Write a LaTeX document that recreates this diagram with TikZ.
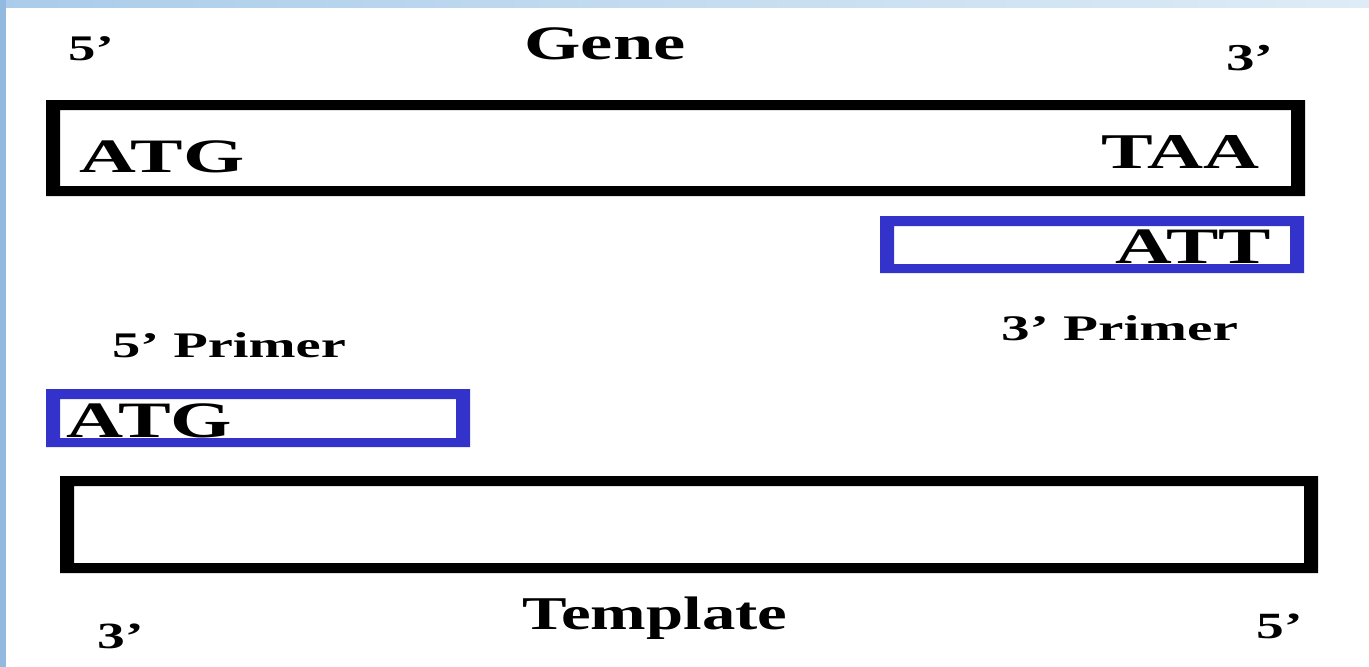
\documentclass[tikz,border=0pt]{standalone}
\usepackage{fontspec}
\usepackage{graphicx}
\setmainfont{Liberation Serif}
\definecolor{primerblue}{RGB}{51,51,204}
\definecolor{edgeL}{RGB}{146,186,222}
\definecolor{edgeT1}{RGB}{170,204,234}
\definecolor{edgeT2}{RGB}{222,236,246}
\newcommand{\wtxt}[3]{\scalebox{#1}[1]{\fontsize{#2}{#2}\selectfont\bfseries #3}}
\tikzset{
  lbl/.style={inner sep=0pt, outer sep=0pt, anchor=base, text=black},
  frameblack/.style={fill=black, even odd rule},
  frameblue/.style={fill=primerblue, even odd rule}
}
\begin{document}
\begin{tikzpicture}[x=1pt,y=-1pt]
\useasboundingbox (0,0) rectangle (1369,667);
\fill[white] (0,0) rectangle (1369,667);
% light blue edges
\shade[left color=edgeT1, right color=edgeT2] (0,0) rectangle (1369,7);
\fill[edgeL] (0,0) rectangle (6,667);
% boxes
\fill[frameblack] (46,100) rectangle (1305,196) (60,110) rectangle (1291,186);
\fill[frameblue] (880,216) rectangle (1304,273) (894,226) rectangle (1290,264);
\fill[frameblue] (46,389) rectangle (470,447) (60,399) rectangle (456,438);
\fill[frameblack] (60,476) rectangle (1318,573) (74,486) rectangle (1304,563);
% labels
\node[lbl] (gene) at (605,59) {\wtxt{1.51}{48}{Gene}};
\node[lbl] (tmpl) at (655,629) {\wtxt{1.42}{47}{Template}};
\node[lbl] (p5) at (229,357) {\wtxt{1.57}{36}{5’ Primer}};
\node[lbl] (p3) at (1119.5,340) {\wtxt{1.59}{36}{3’ Primer}};
\node[lbl] (g5) at (91,60) {\wtxt{1.52}{36}{5’}};
\node[lbl] (g3) at (1250,70) {\wtxt{1.5}{38}{3’}};
\node[lbl] (t3) at (120.5,648) {\wtxt{1.5}{37}{3’}};
\node[lbl] (t5) at (1279.5,638) {\wtxt{1.5}{37}{5’}};
\node[lbl] (atg) at (162,172) {\wtxt{1.64}{48}{ATG}};
\node[lbl] (taa) at (1180.5,168) {\wtxt{1.55}{50}{TAA}};
\node[lbl] (att) at (1193.5,263) {\wtxt{1.54}{51}{ATT}};
\node[lbl] (patg) at (149.5,437) {\wtxt{1.55}{51}{ATG}};
\end{tikzpicture}
\end{document}
